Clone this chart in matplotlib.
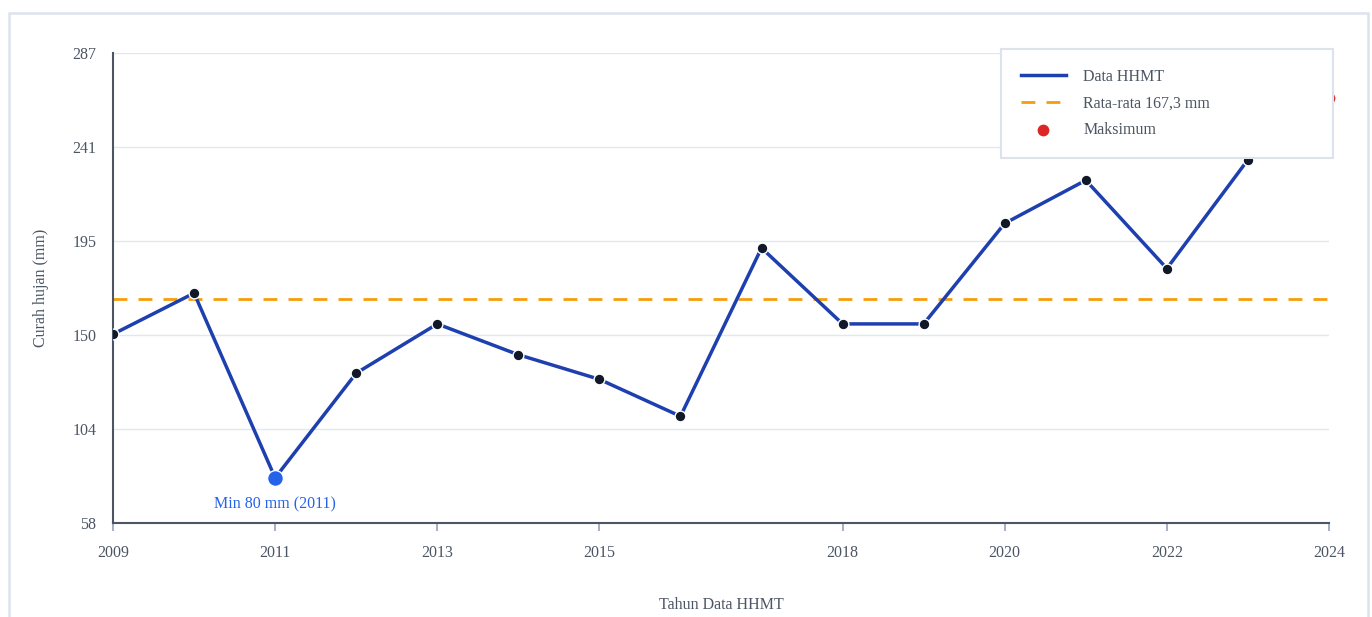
import numpy as np
import matplotlib
matplotlib.use('Agg')
import matplotlib.pyplot as plt
from matplotlib.patches import Rectangle

plt.rcParams['font.family'] = ['Liberation Serif', 'DejaVu Serif']

#%% data
years = [2009, 2010, 2011, 2012, 2013, 2014, 2015, 2016,
         2017, 2018, 2019, 2020, 2021, 2022, 2023, 2024]
rain = [150, 170, 80, 131, 155, 140, 128, 110,
        192, 155, 155, 204, 225, 182, 235, 265]
xticks = [2009, 2011, 2013, 2015, 2018, 2020, 2022, 2024]
yticks = [58, 104, 150, 195, 241, 287]

mean_val = np.mean(rain)
i_min = int(np.argmin(rain))
i_max = int(np.argmax(rain))

txt = '#4b5563'

#%% plot
fig = plt.figure(figsize=(13.72, 6.17), dpi=100)
ax = fig.add_axes([113/1372, 1-523/617, 1216/1372, 470/617])

# outer frame
fig.patches.append(Rectangle((9/1372, -0.05), 1359/1372, 1-13/617+0.05,
                             transform=fig.transFigure, fill=False,
                             edgecolor='#dde3ec', lw=1.8, zorder=0))

ax.plot(years, rain, color='#1e40af', lw=2.5, zorder=3, label='Data HHMT')
ax.scatter(years, rain, s=60, color='#111827', edgecolor='white',
           linewidth=1, zorder=4)
ax.axhline(mean_val, color='#f59e0b', lw=2, ls=(0, (5, 4)), zorder=2,
           label='Rata-rata %s mm' % ('%.1f' % mean_val).replace('.', ','))
ax.scatter([years[i_min]], [rain[i_min]], s=130, color='#2563eb',
           edgecolor='white', linewidth=1, zorder=5)
ax.scatter([years[i_max]], [rain[i_max]], s=90, color='#dc2626',
           edgecolor='white', linewidth=1, zorder=5, label='Maksimum',
           clip_on=False)
ax.annotate('Min %d mm (%d)' % (rain[i_min], years[i_min]),
            (years[i_min], rain[i_min]), xytext=(0, -19),
            textcoords='offset points', ha='center', va='center',
            color='#2563eb', fontsize=11.5)

ax.set_xlim(2009, 2024)
ax.set_ylim(58, 287)
ax.set_xticks(xticks)
ax.set_yticks(np.linspace(58, 287, 6))
ax.set_yticklabels([str(v) for v in yticks])
ax.tick_params(axis='x', colors='#94a3b8', labelcolor=txt, length=6,
               width=1.2, labelsize=11.5, pad=10)
ax.tick_params(axis='y', length=0, labelcolor=txt, labelsize=11.5, pad=12)
ax.grid(axis='y', color='#e5e7eb', lw=1)
ax.set_axisbelow(True)
for s in ['top', 'right']:
    ax.spines[s].set_visible(False)
for s in ['left', 'bottom']:
    ax.spines[s].set_color('#4b5563')
    ax.spines[s].set_linewidth(1.5)

ax.set_ylabel('Curah hujan (mm)', color=txt, fontsize=11.5, labelpad=17)
ax.set_xlabel('Tahun Data HHMT', color=txt, fontsize=11.5, labelpad=26)

h, l = ax.get_legend_handles_labels()
leg = fig.legend(h, l, loc='upper left',
                 bbox_to_anchor=(1001/1372, 1-157/617, 332/1372, 108/617),
                 mode='expand', frameon=True, fancybox=False, framealpha=1,
                 edgecolor='#dde3ec', fontsize=11.5, labelcolor=txt,
                 borderpad=1.25, labelspacing=0.65, handlelength=2.8,
                 handletextpad=1.1, borderaxespad=0)
leg.get_frame().set_linewidth(1.5)
leg.set_zorder(10)

plt.savefig('out.png', dpi=100)
